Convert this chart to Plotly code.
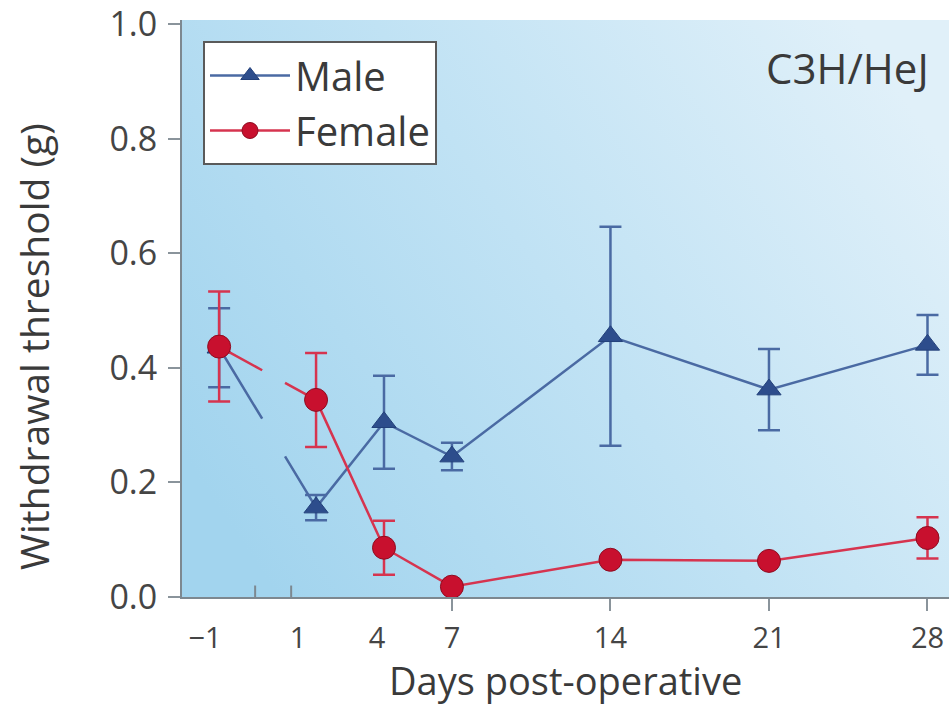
import base64
import math
import plotly.graph_objects as go

# ---------------- data ----------------
days = [-1, 1, 4, 7, 14, 21, 28]
male_mean = [0.435, 0.156, 0.305, 0.245, 0.455, 0.362, 0.440]
male_err = [0.069, 0.022, 0.081, 0.024, 0.191, 0.071, 0.052]
female_mean = [0.437, 0.344, 0.086, 0.018, 0.065, 0.063, 0.103]
female_err = [0.096, 0.082, 0.047, None, None, None, 0.036]
tick_labels = ["\u22121", "1", "4", "7", "14", "21", "28"]
y_ticks = [0.0, 0.2, 0.4, 0.6, 0.8, 1.0]

# ---------------- geometry ----------------
W, H = 949, 708
ML, MR, MT, MB = 182, 0, 20, 111
PW, PH = W - ML - MR, H - MT - MB
XMIN, XMAX = -4.92, 28.95
YMIN, YMAX = 0.0, 1.007
PREOP_SHIFT = -2.28           # pre-operative day drawn left of the axis break
BREAK_MARKS = [-1.69, -0.10]  # axis-break indicator positions (axis units)
GAP = [-1.38, -0.37]          # line interruption across the break (axis units)
LABEL_NUDGE = [-0.62, -0.79, -0.31, 0, 0, 0, 0]  # label offsets as in the original

xpos = [d + PREOP_SHIFT if d < 0 else d for d in days]
label_pos = [p + n for p, n in zip(xpos, LABEL_NUDGE)]

sx = PW / (XMAX - XMIN)
sy = PH / (YMAX - YMIN)


def gap_dash(x0, y0, x1, y1):
    L = math.hypot((x1 - x0) * sx, (y1 - y0) * sy)
    a = (GAP[0] - x0) / (x1 - x0)
    b = (GAP[1] - x0) / (x1 - x0)
    return f"{a * L:.1f}px,{(b - a) * L:.1f}px,{(1 - b) * L + 10:.1f}px"


def paper_x(px):  # window pixel -> paper fraction
    return (px - ML) / PW


def paper_y(py):
    return (H - MB - py) / PH


BLUE_LINE = "#4a6aa3"
BLUE_FILL = "#2d4d8c"
RED_LINE = "#d6344f"
RED_FILL = "#c8102e"
FONT = "Open Sans"
TXT = "#3a3a3a"

fig = go.Figure()

series = [
    ("Male", male_mean, male_err, BLUE_LINE, BLUE_FILL, "triangle-up", 21, "#23407a"),
    ("Female", female_mean, female_err, RED_LINE, RED_FILL, "circle", 23, "#8e0b20"),
]

for name, mean, err, lc, fc, sym, size, oc in series:
    fig.add_trace(go.Scatter(
        x=xpos[:2], y=mean[:2], mode="lines",
        line=dict(color=lc, width=2.5, dash=gap_dash(xpos[0], mean[0], xpos[1], mean[1])),
        showlegend=False, hoverinfo="skip", legendgroup=name))
    fig.add_trace(go.Scatter(
        x=xpos[1:], y=mean[1:], mode="lines+markers", name=name, legendgroup=name,
        line=dict(color=lc, width=2.5),
        marker=dict(symbol=sym, size=size, color=fc, line=dict(color=oc, width=1)),
        error_y=dict(type="data", array=err[1:], color=lc, thickness=2.5, width=11, visible=True)))
    fig.add_trace(go.Scatter(
        x=xpos[:1], y=mean[:1], mode="markers", showlegend=False, legendgroup=name,
        marker=dict(symbol=sym, size=size, color=fc, line=dict(color=oc, width=1)),
        error_y=dict(type="data", array=err[:1], color=lc, thickness=2.5, width=11, visible=True)))

svg = (
    '<svg xmlns="http://www.w3.org/2000/svg" width="100" height="100" preserveAspectRatio="none">'
    '<defs><linearGradient id="g" x1="0" y1="0.75" x2="1" y2="0.25">'
    '<stop offset="0" stop-color="#a2d4ee"/>'
    '<stop offset="0.5" stop-color="#c0e2f4"/>'
    '<stop offset="1" stop-color="#e0f0f9"/>'
    '</linearGradient></defs>'
    '<rect width="100" height="100" fill="url(#g)"/></svg>'
)
src = "data:image/svg+xml;base64," + base64.b64encode(svg.encode()).decode()

shapes = [dict(type="line", xref="x", yref="y", x0=bx, x1=bx, y0=-0.021, y1=0.02,
               line=dict(color="#7d8890", width=2), layer="above") for bx in BREAK_MARKS]

fig.update_layout(
    width=W, height=H,
    margin=dict(l=ML, r=MR, t=MT, b=MB),
    paper_bgcolor="white", plot_bgcolor="rgba(0,0,0,0)",
    font=dict(family=FONT, color=TXT),
    images=[dict(source=src, xref="paper", yref="paper", x=0, y=1, sizex=1, sizey=1,
                 sizing="stretch", layer="below", xanchor="left", yanchor="top")],
    shapes=shapes,
    showlegend=True,
    legend=dict(x=paper_x(203), y=paper_y(41), xanchor="left", yanchor="top",
                bgcolor="white", bordercolor="#5a5a5a", borderwidth=2,
                font=dict(family=FONT, size=40, color=TXT),
                tracegroupgap=0, itemwidth=80),
    annotations=[
        dict(text="C3H/HeJ", xref="paper", yref="paper", x=paper_x(931), y=paper_y(68),
             xanchor="right", yanchor="middle", showarrow=False,
             font=dict(family=FONT, size=42, color=TXT)),
        dict(text="Days post-operative", xref="paper", yref="paper", x=paper_x(565), y=paper_y(680),
             xanchor="center", yanchor="middle", showarrow=False,
             font=dict(family=FONT, size=38, color=TXT)),
        dict(text="Withdrawal threshold (g)", xref="paper", yref="paper", x=paper_x(33), y=paper_y(347),
             xanchor="center", yanchor="middle", showarrow=False, textangle=-90,
             font=dict(family=FONT, size=39, color=TXT)),
    ],
    hovermode=False,
)

fig.update_xaxes(
    range=[XMIN, XMAX], showgrid=False, zeroline=False,
    showline=True, linecolor="#7d8890", linewidth=2,
    tickmode="array", tickvals=label_pos, ticktext=tick_labels,
    ticks="", ticklabelstandoff=14, ticklabeloverflow="allow",
    tickfont=dict(family=FONT, size=29, color="#454545"),
    minor=dict(tickmode="array", tickvals=xpos[3:], ticks="outside", ticklen=12,
               tickwidth=2, tickcolor="#8a949b", showgrid=False),
)
fig.update_yaxes(
    range=[YMIN, YMAX], showgrid=False, zeroline=False,
    showline=True, linecolor="#7d8890", linewidth=2,
    tickmode="array", tickvals=y_ticks, tickformat=".1f",
    ticks="outside", ticklen=12, tickwidth=2, tickcolor="#8a949b",
    ticklabelstandoff=4, ticklabeloverflow="allow",
    tickfont=dict(family=FONT, size=34, color="#454545"),
)

# remove the browser's default 8px page margin so the figure fills the window exactly
fig.write_html(
    "out.html",
    config={"displayModeBar": False, "staticPlot": True},
    post_script="document.body.style.margin='0';document.body.style.overflow='hidden';",
)
